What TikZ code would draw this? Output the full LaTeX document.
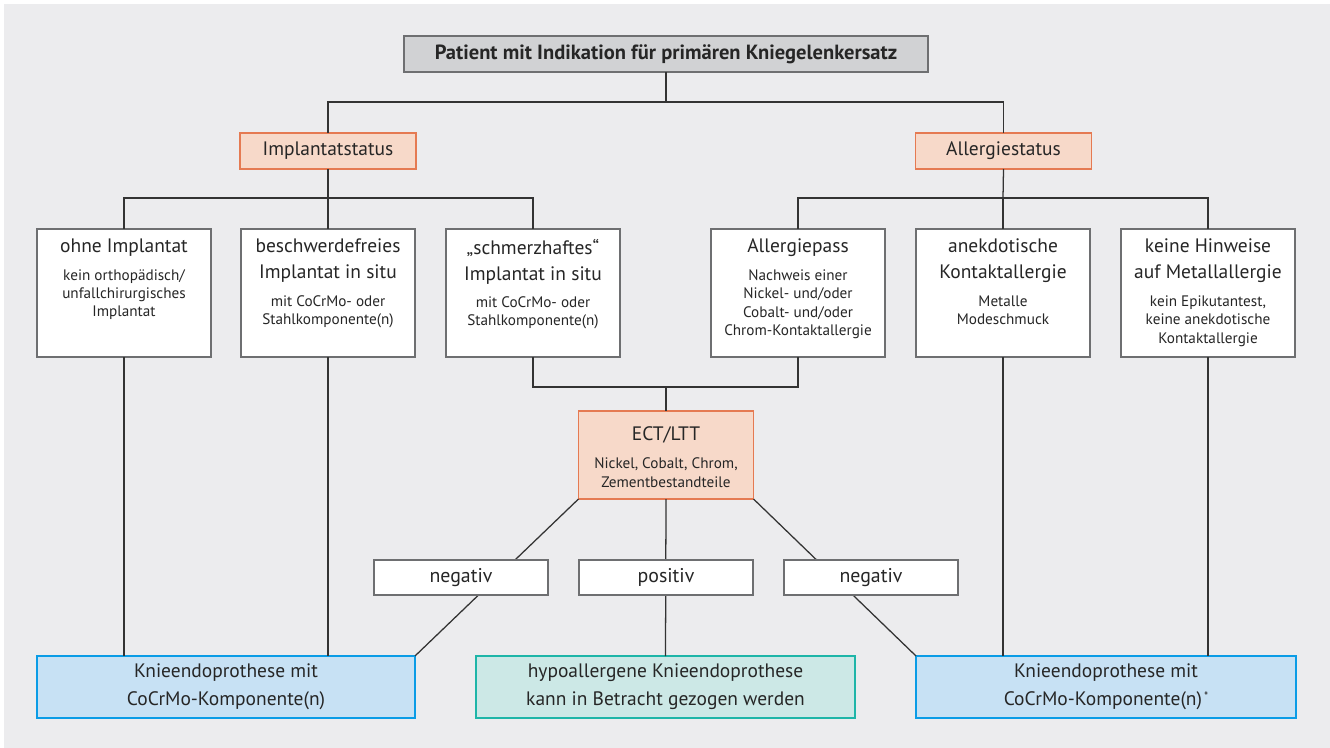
\documentclass[tikz,border=0pt]{standalone}
\usepackage{fontspec}
\setmainfont{PT Sans}
\definecolor{panel}{HTML}{ECECEE}
\definecolor{txt}{HTML}{262626}
\definecolor{linec}{HTML}{333333}
\definecolor{bgray}{HTML}{6E6F71}
\definecolor{gfill}{HTML}{D1D2D4}
\definecolor{ofill}{HTML}{F7D9C9}
\definecolor{odraw}{HTML}{E57A52}
\definecolor{bfill}{HTML}{C7E1F4}
\definecolor{bdraw}{HTML}{0A9CE6}
\definecolor{tfill}{HTML}{CCE8E6}
\definecolor{tdraw}{HTML}{1EB5A8}
\newcommand\FT{\fontsize{14.6pt}{19.5pt}\selectfont}
\newcommand\FS{\fontsize{11.4pt}{13.7pt}\selectfont}
\newcommand\FB{\fontsize{15.4pt}{17pt}\selectfont\bfseries}
\newcommand\FL{\fontsize{14.6pt}{21pt}\selectfont}
\newcommand\FN{\fontsize{14.9pt}{17pt}\selectfont}
\tikzset{
  box/.style={draw, line width=1pt, inner sep=0pt, outer sep=0pt, text=txt},
  topbox/.style={box, draw=bgray, fill=gfill, minimum width=393pt, minimum height=27pt, font=\FB},
  obox/.style={box, draw=odraw, fill=ofill, minimum width=132pt, minimum height=27pt, font=\FT},
  wbox/.style={box, draw=bgray, fill=white, minimum width=130.5pt, minimum height=96pt},
  ectbox/.style={box, draw=odraw, fill=ofill, minimum width=131.25pt, minimum height=66pt},
  rbox/.style={box, draw=bgray, fill=white, minimum width=130.5pt, minimum height=26.25pt, font=\FN},
  bbox/.style={box, draw=bdraw, fill=bfill, minimum height=46.5pt, align=center, font=\FL},
  gbox/.style={box, draw=tdraw, fill=tfill, minimum height=46.5pt, align=center, font=\FL},
  ttl/.style={inner sep=0pt, outer sep=0pt, align=center, font=\FT, text=txt, anchor=north},
  sub/.style={inner sep=0pt, outer sep=0pt, align=center, font=\FS, text=txt, anchor=north},
  conn/.style={draw=linec, line width=0.95pt},
}
\begin{document}
\begin{tikzpicture}[x=0.75pt,y=-0.75pt]
\useasboundingbox (0,0) rectangle (1330,748);
\fill[white] (0,0) rectangle (1330,748);
\fill[panel] (4,4) rectangle (1330,748);

% top
\node[topbox] (top) at (666,54) {Patient mit Indikation für primären Kniegelenkersatz};
\node[obox] (impl) at (328,151) {Implantatstatus};
\node[obox] (allerg) at (1003.5,151) {Allergiestatus};

% row boxes
\node[wbox] (b1) at (124,293) {};
\node[wbox] (b2) at (328,293) {};
\node[wbox] (b3) at (533,293) {};
\node[wbox] (b4) at (798,293) {};
\node[wbox] (b5) at (1003,293) {};
\node[wbox] (b6) at (1208,293) {};

\node[ttl] (t1) at ([yshift=-7.6pt]b1.north) {ohne Implantat};
\node[sub] (s1) at ([yshift=-9.5pt]t1.south) {kein orthopädisch/\\unfallchirurgisches\\Implantat};
\node[ttl] (t2) at ([yshift=-7.6pt]b2.north) {beschwerdefreies\\Implantat in situ};
\node[sub] (s2) at ([yshift=-9.5pt]t2.south) {mit CoCrMo- oder\\Stahlkomponente(n)};
\node[ttl] (t3) at ([yshift=-7.6pt]b3.north) {„schmerzhaftes“\\Implantat in situ};
\node[sub] (s3) at ([yshift=-9.5pt]t3.south) {mit CoCrMo- oder\\Stahlkomponente(n)};
\node[ttl] (t4) at ([yshift=-7.6pt]b4.north) {Allergiepass};
\node[sub] (s4) at ([yshift=-9.5pt]t4.south) {Nachweis einer\\Nickel- und/oder\\Cobalt- und/oder\\Chrom-Kontaktallergie};
\node[ttl] (t5) at ([yshift=-7.6pt]b5.north) {anekdotische\\Kontaktallergie};
\node[sub] (s5) at ([yshift=-9.5pt]t5.south) {Metalle\\Modeschmuck};
\node[ttl] (t6) at ([yshift=-7.6pt]b6.north) {keine Hinweise\\auf Metallallergie};
\node[sub] (s6) at ([yshift=-9.5pt]t6.south) {kein Epikutantest,\\keine anekdotische\\Kontaktallergie};

% ECT
\node[ectbox] (ect) at (666,455) {};
\node[ttl] (te) at ([yshift=-12pt]ect.north) {ECT/LTT};
\node[sub] (se) at ([yshift=-35.3pt]ect.north) {Nickel, Cobalt, Chrom,\\Zementbestandteile};

% bottom boxes
\node[bbox, minimum width=283.5pt] (bl) at (226,687) {Knieendoprothese mit\\CoCrMo-Komponente(n)};
\node[gbox, minimum width=284.25pt] (bg) at (665.5,687) {hypoallergene Knieendoprothese\\kann in Betracht gezogen werden};
\node[bbox, minimum width=285pt] (br) at (1106,687) {Knieendoprothese mit\\CoCrMo-Komponente(n)\kern1.5pt\raisebox{0.55ex}{\fontsize{9pt}{9pt}\selectfont *}};

% junctions
\coordinate (j1) at (666,102);
\coordinate (j2) at (328,198);
\coordinate (j3) at (1003,198);
\coordinate (j4) at (666,387);

% connectors
\draw[conn] (top.south) -- (j1);
\draw[conn] (impl.north) |- (j1) -| (allerg.north);
\draw[conn] (impl.south) -- (j2);
\draw[conn] (b1.north) |- (j2) -| (b3.north);
\draw[conn] (j2) -- (b2.north);
\draw[conn] (allerg.south) -- (j3);
\draw[conn] (b4.north) |- (j3) -| (b6.north);
\draw[conn] (j3) -- (b5.north);
\draw[conn] (b3.south) |- (j4) -| (b4.south);
\draw[conn] (j4) -- (ect.north);
\draw[conn] (b1.south) -- (b1.south |- bl.north);
\draw[conn] (b2.south) -- (b2.south |- bl.north);
\draw[conn] (b5.south) -- (b5.south |- br.north);
\draw[conn] (b6.south) -- (b6.south |- br.north);
\draw[conn] (ect.south west) -- (bl.north east);
\draw[conn] (ect.south) -- (bg.north);
\draw[conn] (ect.south east) -- (br.north west);

% result labels (over the connectors)
\node[rbox] (n1) at (461,577.5) {negativ};
\node[rbox] (p1) at (666,577.5) {positiv};
\node[rbox] (n2) at (871,577.5) {negativ};
\end{tikzpicture}
\end{document}
